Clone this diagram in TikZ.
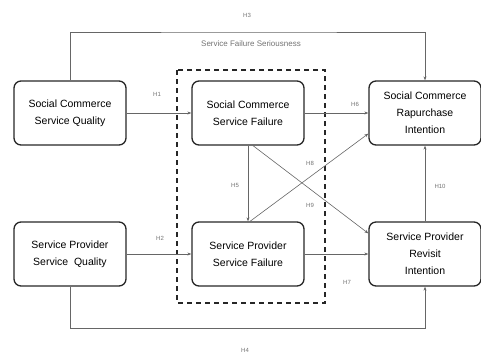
\documentclass[tikz,border=0pt]{standalone}
\usepackage{fontspec}
\setmainfont{Liberation Sans}
\usetikzlibrary{arrows.meta}
\begin{document}
\begin{tikzpicture}[
    x=1pt, y=-1pt,
    construct/.style={draw=black!85, line width=1.3pt, rounded corners=7pt, minimum width=112pt,
        minimum height=64pt, align=center, font=\fontsize{10.5}{17}\selectfont, inner sep=2pt},
    path/.style={draw=black!60, line width=0.6pt, -{Stealth[length=4pt,width=3pt]}},
    hyp/.style={text=black!55, font=\fontsize{6}{7}\selectfont, inner sep=1pt}
]
\useasboundingbox (0,0) rectangle (481,357);
% moderator frame
\draw[line width=1.3pt, black!85, dash pattern=on 5pt off 4pt] (177,70) rectangle (325,303);
\node[hyp, font=\fontsize{8}{9}\selectfont] (sfs) at (251,44) {Service Failure Seriousness};
% constructs
\node[construct] (scq) at (70,113) {Social Commerce\\Service Quality};
\node[construct] (scf) at (248,113) {Social Commerce\\Service Failure};
\node[construct] (scr) at (425,113) {Social Commerce\\Rapurchase\\Intention};
\node[construct] (spq) at (70,254) {Service Provider\\Service\ \ Quality};
\node[construct] (spf) at (248,254) {Service Provider\\Service Failure};
\node[construct] (spr) at (425,254) {Service Provider\\Revisit\\Intention};
% hypotheses
\coordinate (top) at (250,32);
\coordinate (bot) at (250,328);
\draw[path] (scq.north) |- (top) -| (scr.north);
\draw[path] (spq.south) |- (bot) -| (spr.south);
\draw[path] (scq) -- (scf);
\draw[path] (scf) -- (scr);
\draw[path] (spq) -- (spf);
\draw[path] (spf) -- (spr);
\draw[path] (scf.south) -- (spf.north);
\draw[path] ([xshift=2pt]spf.north) -- (scr.200);
\draw[path] ([xshift=5pt]scf.south) -- (spr.160);
\draw[path] (spr.north) -- (scr.south);
\node[hyp] (h3) at (247,15) {H3};
\node[hyp] (h1) at (157,94) {H1};
\node[hyp] (h6) at (355,104) {H6};
\node[hyp] (h5) at (235,185) {H5};
\node[hyp] (h8) at (310,163) {H8};
\node[hyp] (h9) at (310,205) {H9};
\node[hyp] (h10) at (440,186) {H10};
\node[hyp] (h2) at (160,238) {H2};
\node[hyp] (h7) at (347,282) {H7};
\node[hyp] (h4) at (245,350) {H4};
\end{tikzpicture}
\end{document}
